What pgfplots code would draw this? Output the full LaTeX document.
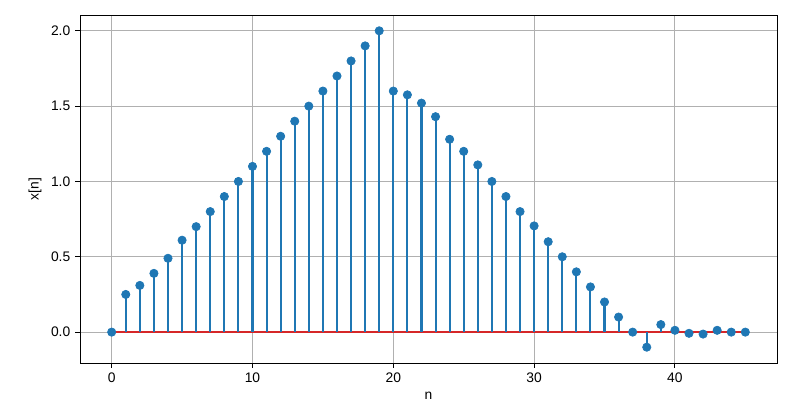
\documentclass[border=0pt]{standalone}
\usepackage{fontspec}
\setmainfont{Liberation Sans}
\usepackage{pgfplots}
\pgfplotsset{compat=1.18}
\usetikzlibrary{calc}
\definecolor{Cblue}{HTML}{1F77B4}
\definecolor{Cred}{HTML}{D62728}
\definecolor{gridgray}{HTML}{B0B0B0}
\pgfplotstableread{
n y
0 0
1 0.25
2 0.31
3 0.39
4 0.49
5 0.61
6 0.70
7 0.80
8 0.90
9 1.00
10 1.10
11 1.20
12 1.30
13 1.40
14 1.50
15 1.60
16 1.70
17 1.80
18 1.90
19 2.00
20 1.60
21 1.575
22 1.52
23 1.43
24 1.28
25 1.20
26 1.11
27 1.00
28 0.90
29 0.80
30 0.705
31 0.60
32 0.50
33 0.40
34 0.30
35 0.20
36 0.10
37 0.0
38 -0.10
39 0.05
40 0.012
41 -0.008
42 -0.013
43 0.012
44 0.0
45 0.0
}\datatable
\begin{document}
\begin{tikzpicture}
\begin{axis}[
  scale only axis,
  width=6.97in, height=3.48in,
  xmin=-2.25, xmax=47.25,
  ymin=-0.205, ymax=2.105,
  xtick={0,10,20,30,40},
  ytick={0,0.5,1,1.5,2},
  yticklabel style={/pgf/number format/fixed,/pgf/number format/fixed zerofill,/pgf/number format/precision=1},
  /pgf/number format/assume math mode=true,
  ticklabel style={font=\fontsize{10}{12}\selectfont},
  label style={font=\fontsize{10}{12}\selectfont},
  xlabel={n}, ylabel={x[n]},
  grid=major,
  major grid style={color=gridgray, line width=0.8pt},
  axis line style={line width=0.7pt},
  tick style={black, line width=0.7pt},
  tick align=outside,
  major tick length=3.5pt,
  xtick pos=bottom, ytick pos=left,
]
\addplot[Cred, line width=1.5pt] coordinates {(0,0) (45,0)};
\addplot[ycomb, Cblue, line width=1.5pt, mark=none] table[x=n,y=y] {\datatable};
\addplot[only marks, color=Cblue, mark=*, mark size=3pt, mark options={solid, fill=Cblue, draw=Cblue, line width=0.5pt}] table[x=n,y=y] {\datatable};
\end{axis}
\pgfresetboundingbox
\path[use as bounding box] ($(current axis.south west)+(-0.80in,-0.46in)$) rectangle ($(current axis.north east)+(0.23in,0.15in)$);
\end{tikzpicture}
\end{document}
